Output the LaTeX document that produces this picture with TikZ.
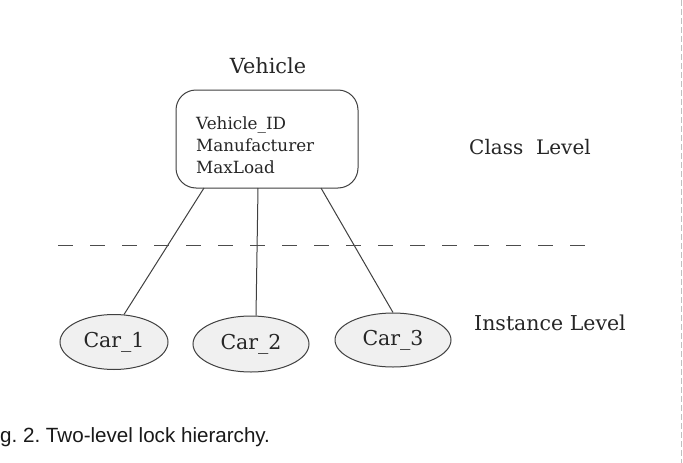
\documentclass[tikz,border=0pt]{standalone}
\usepackage{fontspec}
\setmainfont{DejaVu Serif}
\newfontfamily\capfont{Liberation Sans}
\usetikzlibrary{shapes.geometric,calc}
\frenchspacing
\tikzset{
  conn/.style={draw=black!75, line width=1pt},
  carnode/.style={ellipse, draw=black!75, line width=1pt, fill=black!6, inner sep=0pt, font=\fontsize{20.5}{22}\selectfont, text=black!85},
  lvl/.style={font=\fontsize{20}{22}\selectfont, text=black!85},
}
\begin{document}
\begin{tikzpicture}[x=1pt,y=-1pt]
\useasboundingbox (0,0) rectangle (683,463);
\fill[white] (0,0) rectangle (683,463);
% faint scan edge at right
\draw[black!25, line width=0.8pt, dash pattern=on 6pt off 3pt] (681.5,0) -- (681.5,463);

\node[font=\fontsize{20.8}{22}\selectfont, text=black!85] (title) at (268,66) {Vehicle};
\node[draw=black!75, line width=1pt, rounded corners=20pt, minimum width=182pt, minimum height=98pt, inner sep=0pt] (box) at (267,139) {};
\node[anchor=west, align=left, inner sep=0pt, font=\fontsize{16.8}{22}\selectfont, text=black!85] (attrs) at (196,145) {Vehicle\_ID\\Manufacturer\\MaxLoad};

\node[lvl] (cls) at (530,147) {Class\ \ Level};
\node[lvl, font=\fontsize{20.5}{22}\selectfont] (inst) at (550,323) {Instance Level};

\node[carnode, minimum width=108pt, minimum height=55pt] (car1) at (114,342) {Car\_1};
\node[carnode, minimum width=116pt, minimum height=56pt] (car2) at (251,344) {Car\_2};
\node[carnode, minimum width=116pt, minimum height=54pt] (car3) at (393,340) {Car\_3};

\coordinate (b1) at (204,188);
\coordinate (b2) at (258,188);
\coordinate (b3) at (321,188);
\draw[conn] (b1) -- (car1.70);
\draw[conn] (b2) -- (car2.80);
\draw[conn] (b3) -- (car3.north);

\coordinate (dl) at (58,245);
\coordinate (dr) at (596,245);
\draw[black!70, line width=1pt, dash pattern=on 15pt off 17pt] (dl) -- (dr);

\node[anchor=base west, inner sep=0pt, font=\capfont\fontsize{20.6}{22}\selectfont, text=black!90] (cap) at (0,442) {g. 2. Two-level lock hierarchy.};
\end{tikzpicture}
\end{document}
